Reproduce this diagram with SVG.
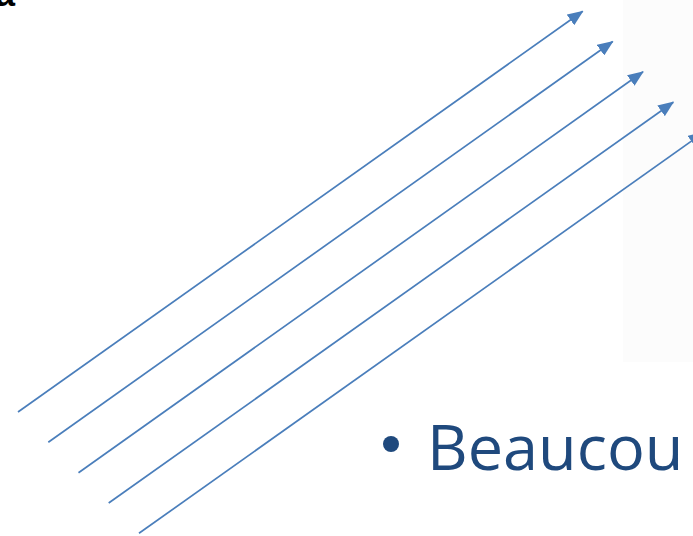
<svg xmlns="http://www.w3.org/2000/svg" width="693" height="536" viewBox="0 0 693 536">
<defs>
<style>
.arr{stroke:#4a7ebb;stroke-width:1.7;fill:none;marker-end:url(#ah);}
.bul{font-family:"Open Sans","Liberation Sans",sans-serif;font-size:63px;fill:#1f497d;}
</style>
<marker id="ah" viewBox="0 0 16 13" refX="15" refY="6.5" markerWidth="16" markerHeight="13" orient="auto" markerUnits="userSpaceOnUse">
<path d="M0,0 L16,6.5 L0,13 z" fill="#4a7ebb"/>
</marker>
<clipPath id="tc"><rect x="0" y="0" width="683" height="536"/></clipPath>
</defs>
<rect width="693" height="536" fill="#ffffff"/>
<rect id="panel" x="623" y="0" width="70" height="362" fill="#fcfcfc"/>
<text id="frag" x="-5" y="6" font-family="Liberation Sans,Arial,sans-serif" font-weight="bold" font-size="36" fill="#000">a</text>
<g id="connectors">
<line class="arr" x1="18" y1="412" x2="582.7" y2="11.3"/>
<line class="arr" x1="48.3" y1="442.3" x2="612.7" y2="41.5"/>
<line class="arr" x1="78.5" y1="472.7" x2="643" y2="71.8"/>
<line class="arr" x1="108.7" y1="503" x2="673.3" y2="102.2"/>
<line class="arr" x1="139" y1="533.3" x2="703.6" y2="132.5"/>
</g>
<g id="bullet" clip-path="url(#tc)">
<circle cx="391" cy="444" r="8" fill="#1f497d"/>
<text class="bul" x="427" y="470">Beaucoup</text>
</g>
</svg>
